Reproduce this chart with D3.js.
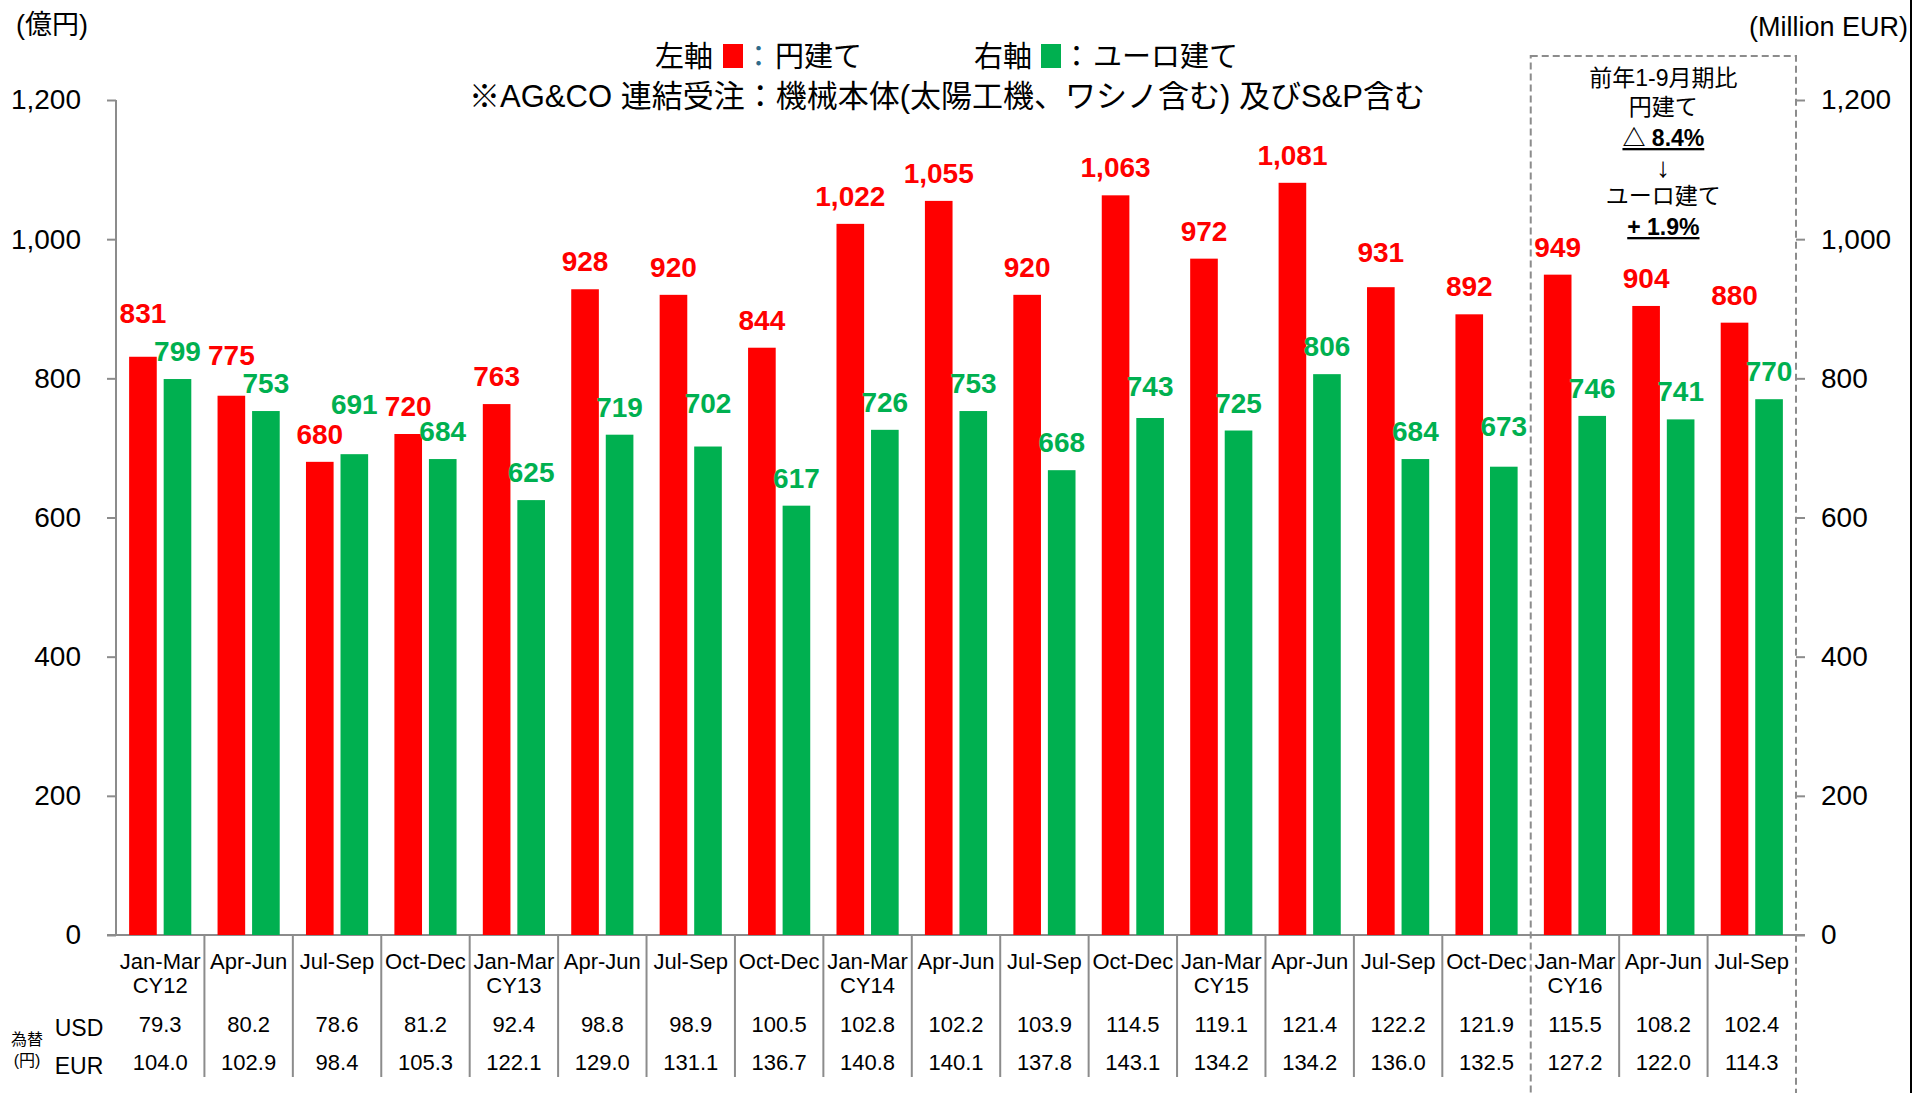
<!DOCTYPE html>
<html>
<head>
<meta charset="utf-8">
<script src="https://cdn.jsdelivr.net/npm/d3@7"></script>
<style>
  body { margin: 0; background: #fff; }
  svg text { font-family: "Liberation Sans", Arial, "Noto Sans CJK JP", sans-serif; }
</style>
</head>
<body>
<svg id="chart" width="1914" height="1093"></svg>
<script>
// quarters, two-line labels
var quarters = [
  ['Jan-Mar', 'CY12'], ['Apr-Jun'], ['Jul-Sep'], ['Oct-Dec'],
  ['Jan-Mar', 'CY13'], ['Apr-Jun'], ['Jul-Sep'], ['Oct-Dec'],
  ['Jan-Mar', 'CY14'], ['Apr-Jun'], ['Jul-Sep'], ['Oct-Dec'],
  ['Jan-Mar', 'CY15'], ['Apr-Jun'], ['Jul-Sep'], ['Oct-Dec'],
  ['Jan-Mar', 'CY16'], ['Apr-Jun'], ['Jul-Sep']
];
// 円建て (億円, left axis)
var jpyOrders = [831, 775, 680, 720, 763, 928, 920, 844, 1022, 1055, 920, 1063, 972, 1081, 931, 892, 949, 904, 880];
// ユーロ建て (Million EUR, right axis)
var eurOrders = [799, 753, 691, 684, 625, 719, 702, 617, 726, 753, 668, 743, 725, 806, 684, 673, 746, 741, 770];
// 為替 (円)
var usdRate = ['79.3', '80.2', '78.6', '81.2', '92.4', '98.8', '98.9', '100.5', '102.8', '102.2', '103.9', '114.5', '119.1', '121.4', '122.2', '121.9', '115.5', '108.2', '102.4'];
var eurRate = ['104.0', '102.9', '98.4', '105.3', '122.1', '129.0', '131.1', '136.7', '140.8', '140.1', '137.8', '143.1', '134.2', '134.2', '136.0', '132.5', '127.2', '122.0', '114.3'];
var yTicks = [0, 200, 400, 600, 800, 1000, 1200];
var boxLines = ['前年1-9月期比', '円建て', '△ 8.4%', '↓', 'ユーロ建て', '+ 1.9%'];

// extra lift for a few labels that were nudged up in the original to avoid overlap
var redLift = {0: 16, 1: 13, 14: 7};
var greenLift = {2: 22, 6: 16, 11: 4, 15: 13};

var RED = '#ff0000', GREEN = '#00b050', GRAY = '#8c8c8c';
var svg = d3.select('#chart');

var plotLeft = 116, plotRight = 1796, plotBase = 935, plotTop = 100;
var idx = d3.range(quarters.length);
var xScale = d3.scaleBand().domain(idx).range([plotLeft, plotRight]);
var inner = d3.scaleBand().domain(['jpy', 'eur']).range([0, xScale.bandwidth()])
  .paddingInner(0.2).paddingOuter(0.38);
var yScale = d3.scaleLinear().domain([0, 1200]).range([plotBase, plotTop]);

// dashed box around CY16
var boxX0 = xScale(16), boxX1 = plotRight;

// axes
var yAxisL = d3.axisLeft(yScale).tickValues(yTicks).tickSize(9).tickPadding(26)
  .tickFormat(d3.format(','));
var yAxisR = d3.axisRight(yScale).tickValues(yTicks).tickSize(9).tickPadding(16)
  .tickFormat(d3.format(','));

var gl = svg.append('g').attr('transform', 'translate(' + plotLeft + ',0)').call(yAxisL);
var gr = svg.append('g').attr('transform', 'translate(' + plotRight + ',0)').call(yAxisR);
gr.select('.domain').remove();
gl.select('.domain').attr('d', 'M0,' + plotTop + 'V' + plotBase);
[gl, gr].forEach(function(g) {
  g.selectAll('path, line').attr('stroke', GRAY).attr('stroke-width', 2);
  g.selectAll('text').attr('font-size', 28).attr('fill', '#000')
    .attr('font-family', '"Liberation Sans", Arial, sans-serif');
});
gr.selectAll('.tick text').attr('text-anchor', 'start');

// baseline
svg.append('line')
  .attr('x1', plotLeft - 9).attr('x2', plotRight + 9)
  .attr('y1', plotBase).attr('y2', plotBase)
  .attr('stroke', GRAY).attr('stroke-width', 2);

// bars
var groups = svg.selectAll('.q').data(idx).enter().append('g')
  .attr('class', 'q')
  .attr('transform', function(i) { return 'translate(' + xScale(i) + ',0)'; });

groups.append('rect')
  .attr('x', inner('jpy')).attr('width', inner.bandwidth())
  .attr('y', function(i) { return yScale(jpyOrders[i]); })
  .attr('height', function(i) { return plotBase - yScale(jpyOrders[i]); })
  .attr('fill', RED);
groups.append('rect')
  .attr('x', inner('eur')).attr('width', inner.bandwidth())
  .attr('y', function(i) { return yScale(eurOrders[i]); })
  .attr('height', function(i) { return plotBase - yScale(eurOrders[i]); })
  .attr('fill', GREEN);

groups.append('text')
  .attr('x', inner('jpy') + inner.bandwidth() / 2)
  .attr('y', function(i) { return yScale(jpyOrders[i]) - 18 - (redLift[i] || 0); })
  .attr('text-anchor', 'middle').attr('font-size', 28).attr('font-weight', 'bold')
  .attr('fill', RED)
  .text(function(i) { return d3.format(',')(jpyOrders[i]); });
groups.append('text')
  .attr('x', inner('eur') + inner.bandwidth() / 2)
  .attr('y', function(i) { return yScale(eurOrders[i]) - 18 - (greenLift[i] || 0); })
  .attr('text-anchor', 'middle').attr('font-size', 28).attr('font-weight', 'bold')
  .attr('fill', GREEN)
  .text(function(i) { return eurOrders[i]; });

// table below the axis
var mid = xScale.bandwidth() / 2;
groups.each(function(i) {
  var g = d3.select(this);
  quarters[i].forEach(function(s, k) {
    g.append('text').attr('x', mid).attr('y', 969 + k * 24)
      .attr('text-anchor', 'middle').attr('font-size', 22).text(s);
  });
  g.append('text').attr('x', mid).attr('y', 1032)
    .attr('text-anchor', 'middle').attr('font-size', 22).text(usdRate[i]);
  g.append('text').attr('x', mid).attr('y', 1070)
    .attr('text-anchor', 'middle').attr('font-size', 22).text(eurRate[i]);
});

// separators between quarters (box edges take over at the CY16 block)
svg.selectAll('.sep').data(d3.range(1, quarters.length).filter(function(i) { return i != 16; }))
  .enter().append('line')
  .attr('x1', function(i) { return xScale(i); })
  .attr('x2', function(i) { return xScale(i); })
  .attr('y1', plotBase).attr('y2', 1077)
  .attr('stroke', GRAY).attr('stroke-width', 2);

svg.append('text').attr('x', 79).attr('y', 1036).attr('text-anchor', 'middle')
  .attr('font-size', 23).text('USD');
svg.append('text').attr('x', 79).attr('y', 1074).attr('text-anchor', 'middle')
  .attr('font-size', 23).text('EUR');
svg.append('text').attr('x', 27).attr('y', 1045).attr('text-anchor', 'middle')
  .attr('font-size', 16).text('為替');
svg.append('text').attr('x', 27).attr('y', 1066).attr('text-anchor', 'middle')
  .attr('font-size', 16).text('(円)');

// dashed box
svg.append('rect')
  .attr('x', boxX0).attr('y', 56)
  .attr('width', boxX1 - boxX0).attr('height', 1100)
  .attr('fill', 'none').attr('stroke', GRAY).attr('stroke-width', 2)
  .attr('stroke-dasharray', '7,4');

var boxY = [86, 115, 146, 177, 204, 235];
boxLines.forEach(function(s, k) {
  var bold = (k == 2 || k == 5);
  svg.append('text')
    .attr('x', (boxX0 + boxX1) / 2).attr('y', boxY[k])
    .attr('text-anchor', 'middle').attr('font-size', k == 3 ? 28 : 23)
    .attr('font-weight', bold ? 'bold' : 'normal')
    .style('text-decoration', bold ? 'underline' : 'none')
    .text(s);
});

// unit labels
svg.append('text').attr('x', 16).attr('y', 34).attr('font-size', 27).text('(億円)');
svg.append('text').attr('x', 1908).attr('y', 36).attr('text-anchor', 'end')
  .attr('font-size', 27).text('(Million EUR)');
svg.append('line').attr('x1', 1911).attr('x2', 1911).attr('y1', 0).attr('y2', 1093)
  .attr('stroke', '#000').attr('stroke-width', 2);

// legend line
var ly = 67;
function legendText(x, txt, color) {
  svg.append('text').attr('x', x).attr('y', ly).attr('font-size', 29)
    .attr('fill', color || '#000').text(txt);
}
function swatch(x, color) {
  svg.append('rect').attr('x', x).attr('y', ly - 23).attr('width', 20).attr('height', 24)
    .attr('fill', color);
}
legendText(655, '左軸'); swatch(723, RED); legendText(744, '：', '#2e6b8a'); legendText(775, '円建て');
legendText(974, '右軸'); swatch(1041, GREEN); legendText(1062, '：'); legendText(1093, 'ユーロ建て');

svg.append('text').attr('x', 947).attr('y', 107).attr('text-anchor', 'middle')
  .attr('font-size', 31).text('※AG&CO 連結受注：機械本体(太陽工機、ワシノ含む) 及びS&P含む');
</script>
</body>
</html>
